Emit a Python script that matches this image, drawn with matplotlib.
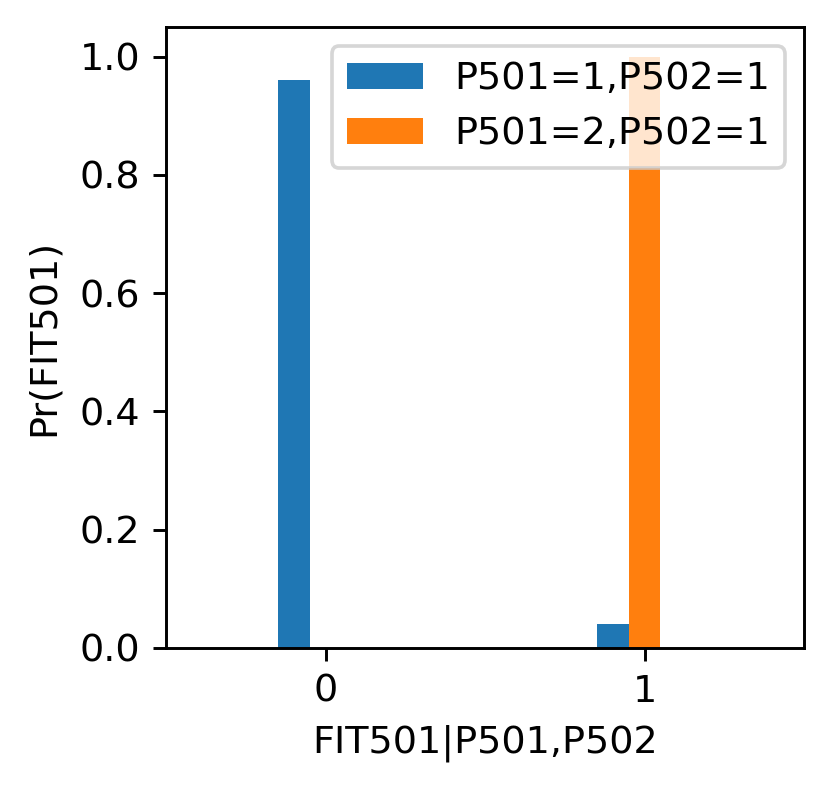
import matplotlib
matplotlib.use("Agg")
import matplotlib.pyplot as plt
import numpy as np

categories = ["0", "1"]
series_names = ["P501=1,P502=1", "P501=2,P502=1"]
p501_1 = [0.96, 0.04]
p501_2 = [0.0, 1.0]

plt.rcParams["font.size"] = 10.4
DPI = 264
fig = plt.figure(figsize=(832 / DPI, 793 / DPI), dpi=DPI)
ax = fig.add_axes([166 / 832, (793 - 648) / 793, 638 / 832, 621 / 793])

x = np.arange(len(categories))
w = 0.1
ax.bar(x - w, p501_1, width=w, color="#1f77b4", label=series_names[0])
ax.bar(x, p501_2, width=w, color="#ff7f0e", label=series_names[1])
ax.set_xticks(x)
ax.set_xticklabels(categories)
ax.set_xlim(-0.5, 1.5)
ax.set_xlabel("FIT501|P501,P502")
ax.set_ylabel("Pr(FIT501)", labelpad=5)
ax.legend(loc="upper right")

fig.savefig("out.png", dpi=DPI)
